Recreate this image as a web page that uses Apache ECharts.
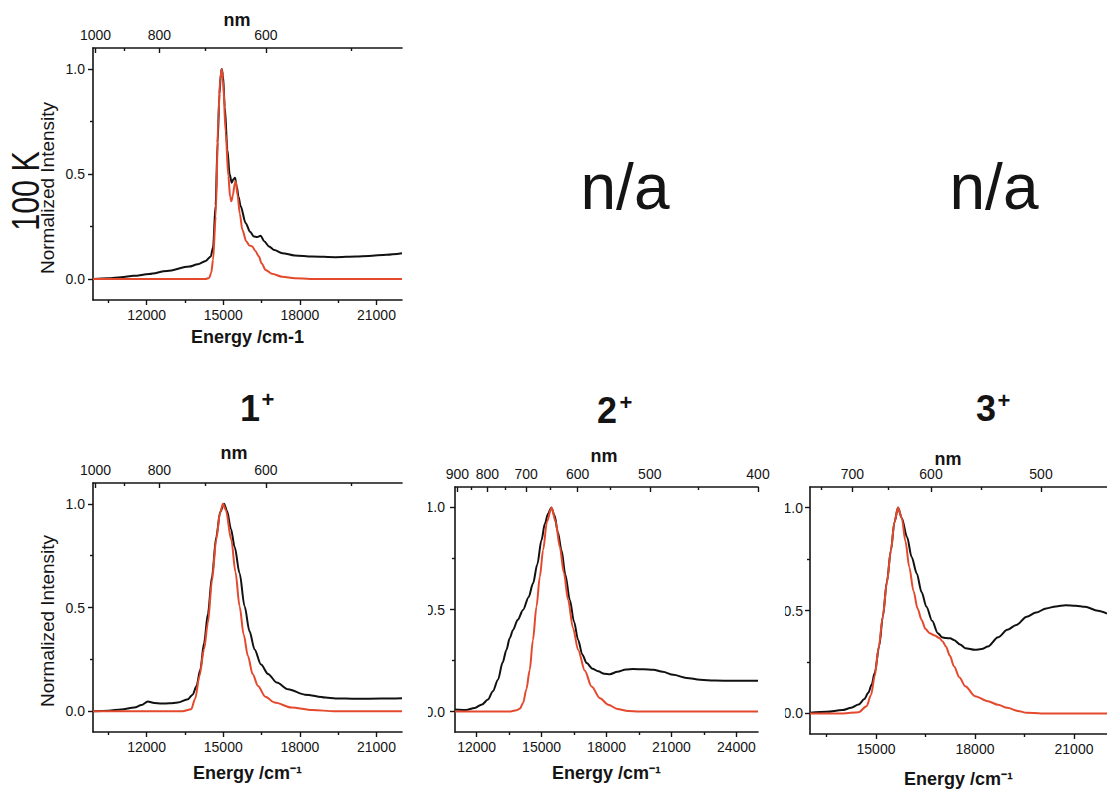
<!DOCTYPE html>
<html>
<head>
<meta charset="utf-8">
<script src="https://cdn.jsdelivr.net/npm/echarts@6/dist/echarts.min.js"></script>
<style>
html,body{margin:0;padding:0;background:#fff;}
#chart{width:1107px;height:789px;}
</style>
</head>
<body>
<div id="chart"></div>
<script>
// ---------------- data (energy cm^-1, normalized intensity) ----------------
const k100Exp = [[9900,0],[10500,0.003],[11000,0.008],[11500,0.015],[12100,0.024],[12800,0.038],[13665,0.059],[14000,0.07],[14314,0.086],[14510,0.107],[14600,0.15],[14700,0.35],[14780,0.65],[14850,0.88],[14910,0.98],[14940,1.0],[14990,0.97],[15060,0.82],[15162,0.617],[15250,0.5],[15332,0.458],[15400,0.475],[15462,0.482],[15530,0.44],[15600,0.39],[15683,0.346],[15879,0.266],[16050,0.225],[16205,0.202],[16330,0.2],[16465,0.206],[16600,0.18],[16793,0.155],[17000,0.138],[17313,0.123],[17800,0.112],[18487,0.107],[19398,0.104],[20200,0.107],[20700,0.11],[21400,0.116],[22000,0.123]];
const k100Calc = [[9900,0],[14300,0],[14450,0.005],[14530,0.03],[14600,0.09],[14705,0.298],[14810,0.777],[14880,0.95],[14940,1.0],[14990,0.95],[15096,0.697],[15200,0.49],[15270,0.39],[15319,0.37],[15380,0.4],[15450,0.455],[15488,0.466],[15560,0.4],[15650,0.31],[15749,0.234],[15900,0.18],[16020,0.16],[16140,0.155],[16250,0.135],[16400,0.107],[16500,0.075],[16660,0.043],[16900,0.025],[17313,0.011],[17800,0.004],[18400,0],[22000,0]];

const c1Exp = [[9900,0],[10500,0.003],[11000,0.008],[11522,0.018],[11800,0.03],[12047,0.047],[12300,0.04],[12569,0.037],[12900,0.038],[13224,0.042],[13616,0.058],[13800,0.08],[13950,0.12],[14100,0.2],[14250,0.33],[14400,0.47],[14560,0.65],[14725,0.84],[14880,0.96],[15030,1.0],[15150,0.965],[15300,0.88],[15450,0.79],[15640,0.665],[15835,0.506],[16030,0.385],[16227,0.298],[16480,0.225],[16753,0.18],[17100,0.138],[17537,0.106],[18200,0.08],[19000,0.066],[19400,0.062],[20200,0.06],[21196,0.061],[22000,0.063]];
const c1Calc = [[9900,0],[13400,0],[13745,0.01],[13900,0.06],[14071,0.17],[14250,0.3],[14400,0.426],[14560,0.63],[14725,0.827],[14880,0.96],[14990,1.0],[15100,0.97],[15314,0.827],[15480,0.67],[15640,0.506],[15800,0.37],[15967,0.266],[16150,0.18],[16360,0.122],[16650,0.07],[17012,0.042],[17667,0.018],[18500,0.006],[19350,0],[22000,0]];

const c2Exp = [[11000,0.01],[11500,0.008],[11907,0.018],[12250,0.035],[12523,0.059],[12750,0.1],[12986,0.156],[13200,0.24],[13375,0.302],[13530,0.36],[13681,0.4],[13900,0.45],[14144,0.498],[14400,0.56],[14607,0.628],[14800,0.72],[14995,0.839],[15150,0.92],[15301,0.969],[15450,1.0],[15600,0.96],[15750,0.88],[15921,0.79],[16100,0.67],[16306,0.546],[16500,0.44],[16690,0.351],[16880,0.28],[17079,0.238],[17350,0.21],[17616,0.197],[17900,0.185],[18157,0.183],[18500,0.195],[18900,0.206],[19236,0.208],[19700,0.207],[20162,0.205],[20600,0.195],[21088,0.18],[21700,0.165],[22324,0.156],[23000,0.152],[23866,0.151],[25000,0.151]];
const c2Calc = [[11000,0],[13500,0],[13838,0.006],[14000,0.015],[14144,0.042],[14300,0.11],[14454,0.205],[14600,0.35],[14764,0.514],[14920,0.66],[15069,0.79],[15250,0.93],[15458,1.0],[15650,0.93],[15843,0.806],[16030,0.68],[16227,0.546],[16450,0.41],[16690,0.302],[17000,0.2],[17310,0.123],[17700,0.065],[18079,0.034],[18500,0.013],[19000,0.003],[19500,0],[25000,0]];

const c3Exp = [[13000,0.003],[13500,0.008],[13980,0.016],[14250,0.027],[14471,0.043],[14650,0.07],[14765,0.1],[14870,0.14],[14961,0.197],[15100,0.33],[15206,0.47],[15330,0.64],[15451,0.792],[15560,0.93],[15667,1.0],[15780,0.95],[15941,0.857],[16080,0.76],[16235,0.68],[16380,0.59],[16529,0.518],[16700,0.45],[16873,0.39],[17000,0.37],[17118,0.366],[17250,0.365],[17362,0.357],[17550,0.335],[17706,0.317],[18000,0.309],[18200,0.313],[18391,0.325],[18700,0.37],[18980,0.406],[19250,0.43],[19568,0.47],[19850,0.49],[20157,0.51],[20450,0.52],[20745,0.526],[21050,0.523],[21333,0.518],[21725,0.499],[22000,0.485]];
const c3Calc = [[13000,0],[14000,0],[14471,0.006],[14715,0.035],[14850,0.09],[14961,0.18],[15080,0.32],[15206,0.47],[15330,0.635],[15451,0.792],[15560,0.93],[15667,1.0],[15780,0.95],[15892,0.836],[16010,0.71],[16137,0.594],[16260,0.51],[16382,0.454],[16500,0.41],[16627,0.39],[16780,0.378],[16921,0.366],[17020,0.35],[17118,0.325],[17240,0.28],[17362,0.229],[17530,0.175],[17706,0.132],[18000,0.084],[18391,0.059],[18700,0.042],[18980,0.027],[19300,0.012],[19568,0.003],[20000,0],[22000,0]];

// ---------------- tick values ----------------
const yMajor = [0, 0.5, 1.0];
const yMinor = [0.25, 0.75];
const eMajorA = [12000, 15000, 18000, 21000];
const eMinorA = [10500, 13500, 16500, 19500];
const eMajorB = [12000, 15000, 18000, 21000, 24000];
const eMinorB = [13500, 16500, 19500, 22500];
const eMajorC = [15000, 18000, 21000];
const eMinorC = [13500, 16500, 19500];
const nmMajorA = [1000, 800, 600];
const nmMinorA = [900, 700, 500];
const nmMajorB = [900, 800, 700, 600, 500, 400];
const nmMinorB = [850, 750, 650, 550, 450];
const nmMajorC = [700, 600, 500];
const nmMinorC = [750, 650, 550];

const FONT = '"Liberation Sans", Arial, Helvetica, sans-serif';
const INK = '#141414';
const RED = '#e4492d';
const nmToE = nm => 1e7 / nm;

const panels = [
  {grid:{left:93, right:705, top:48, bottom:489}, xr:[9900,22000], eMaj:eMajorA, eMin:eMinorA, nmMaj:nmMajorA, nmMin:nmMinorA, exp:k100Exp, calc:k100Calc, name:'Energy /cm-1', gap:28, ym:8},
  {grid:{left:93, right:705, top:483, bottom:57}, xr:[9900,22000], eMaj:eMajorA, eMin:eMinorA, nmMaj:nmMajorA, nmMin:nmMinorA, exp:c1Exp, calc:c1Calc, name:'Energy /cm\u207B\u00B9', gap:32, ym:8},
  {grid:{left:455, right:349, top:487, bottom:57}, xr:[11000,25000], eMaj:eMajorB, eMin:eMinorB, nmMaj:nmMajorB, nmMin:nmMinorB, exp:c2Exp, calc:c2Calc, name:'Energy /cm\u207B\u00B9', gap:32, ym:10},
  {grid:{left:810, right:-9, top:487, bottom:54}, xr:[13000,22000], eMaj:eMajorC, eMin:eMinorC, nmMaj:nmMajorC, nmMin:nmMinorC, exp:c3Exp, calc:c3Calc, name:'Energy /cm\u207B\u00B9', gap:36, ym:7}
];

const grid = [], xAxis = [], yAxis = [], series = [];
const AXL = () => ({color: INK, width: 1.6});
const TICK = () => ({color: INK, width: 1.4});

panels.forEach((p, i) => {
  grid.push({left:p.grid.left, right:p.grid.right, top:p.grid.top, bottom:p.grid.bottom});
  // bottom major (energy)
  xAxis.push({
    type:'value', gridIndex:i, min:p.xr[0], max:p.xr[1], splitLine:{show:false},
    position:'bottom',
    axisLine:{show:true, onZero:false, lineStyle:AXL()},
    axisTick:{show:true, length:5, customValues:p.eMaj, lineStyle:TICK()},
    axisLabel:{show:true, customValues:p.eMaj, margin:8, fontFamily:FONT, fontSize:14, color:INK,
      formatter: v => String(Math.round(v))},
    name:p.name, nameLocation:'middle', nameGap:p.gap,
    nameTextStyle:{fontFamily:FONT, fontSize:18, fontWeight:'bold', color:INK}
  });
  // bottom minor
  xAxis.push({
    type:'value', gridIndex:i, min:p.xr[0], max:p.xr[1], splitLine:{show:false},
    position:'bottom',
    axisLine:{show:false, onZero:false},
    axisTick:{show:true, length:3, customValues:p.eMin, lineStyle:TICK()},
    axisLabel:{show:false}
  });
  // top major (nm)
  xAxis.push({
    type:'value', gridIndex:i, min:p.xr[0], max:p.xr[1], splitLine:{show:false},
    position:'top',
    axisLine:{show:true, onZero:false, lineStyle:AXL()},
    axisTick:{show:true, inside:true, length:5, customValues:p.nmMaj.map(nmToE), lineStyle:TICK()},
    axisLabel:{show:true, customValues:p.nmMaj.map(nmToE), margin:6, fontFamily:FONT, fontSize:14, color:INK,
      formatter: v => String(Math.round(1e7 / v))}
  });
  // top minor (nm)
  xAxis.push({
    type:'value', gridIndex:i, min:p.xr[0], max:p.xr[1], splitLine:{show:false},
    position:'top',
    axisLine:{show:false, onZero:false},
    axisTick:{show:true, inside:true, length:3, customValues:p.nmMin.map(nmToE), lineStyle:TICK()},
    axisLabel:{show:false}
  });
  yAxis.push({
    type:'value', gridIndex:i, min:-0.1, max:1.1, position:'left', splitLine:{show:false},
    axisLine:{show:true, onZero:false, lineStyle:AXL()},
    axisTick:{show:true, length:5, customValues:yMajor, lineStyle:TICK()},
    axisLabel:{show:true, customValues:yMajor, margin:p.ym, fontFamily:FONT, fontSize:14, color:INK,
      formatter: v => v.toFixed(1)}
  });
  yAxis.push({
    type:'value', gridIndex:i, min:-0.1, max:1.1, position:'left', splitLine:{show:false},
    axisLine:{show:false, onZero:false},
    axisTick:{show:true, length:3, customValues:yMinor, lineStyle:TICK()},
    axisLabel:{show:false}
  });
  const common = {type:'line', xAxisIndex:4*i, yAxisIndex:2*i, showSymbol:false, symbol:'none', smooth:0.3, smoothMonotone:'x', animation:false};
  series.push(Object.assign({}, common, {name:'exp'+i, data:p.exp, lineStyle:{color:'#111', width:2}, z:2}));
  series.push(Object.assign({}, common, {name:'calc'+i, data:p.calc, lineStyle:{color:RED, width:2}, z:3}));
});

function txt(text, x, y, size, weight, extra) {
  return Object.assign({
    type:'text', x:x, y:y, z:10,
    style:{text:text, fill:INK, font: (weight||'normal') + ' ' + size + 'px ' + FONT,
      textAlign:'center', align:'center', textVerticalAlign:'middle', verticalAlign:'middle'}
  }, extra || {});
}

const graphic = [
  // masks cropping the leading zeros of the y labels of panels 2+ and 3+
  {type:'rect', shape:{x:410, y:490, width:18, height:240}, style:{fill:'#fff'}, z:5},
  {type:'rect', shape:{x:771, y:490, width:14, height:240}, style:{fill:'#fff'}, z:5},
  txt('100 K', 26, 191, 38, 'normal', {rotation:Math.PI/2, scaleX:0.8}),
  txt('Normalized Intensity', 47, 188, 19, 'normal', {rotation:Math.PI/2}),
  txt('Normalized Intensity', 47, 621, 19, 'normal', {rotation:Math.PI/2}),
  txt('nm', 237, 20, 18, 'bold'),
  txt('nm', 234, 453, 18, 'bold'),
  txt('nm', 604, 456, 18, 'bold'),
  txt('nm', 948, 459, 18, 'bold'),
  txt('n/a', 625, 187, 64, 'normal'),
  txt('n/a', 994, 187, 64, 'normal'),
  txt('1', 250, 408, 36, 'bold'),
  txt('+', 268, 399, 22, 'bold'),
  txt('2', 607, 410, 36, 'bold'),
  txt('+', 626, 402, 22, 'bold'),
  txt('3', 986, 408, 36, 'bold'),
  txt('+', 1004, 400, 22, 'bold')
];

const chart = echarts.init(document.getElementById('chart'), null, {renderer:'svg'});
chart.setOption({
  animation:false,
  backgroundColor:'#ffffff',
  grid, xAxis, yAxis, series, graphic
});
</script>
</body>
</html>
